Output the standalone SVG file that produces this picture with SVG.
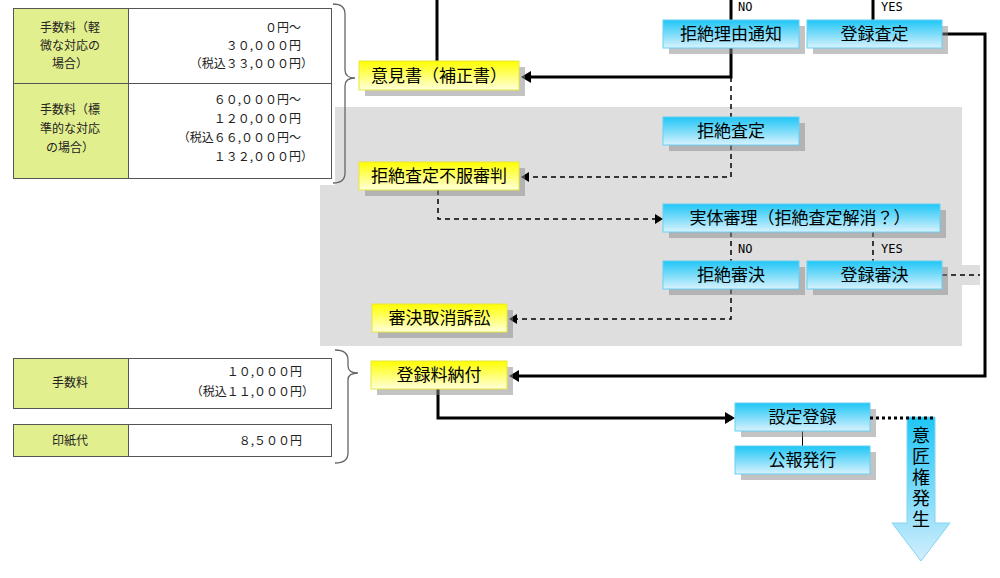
<svg xmlns="http://www.w3.org/2000/svg" width="1000" height="578" viewBox="0 0 1000 578">
<defs>
<linearGradient id="gb" x1="0" y1="0" x2="0" y2="1"><stop offset="0" stop-color="#1fc6f6"/><stop offset="1" stop-color="#d8f2fd"/></linearGradient>
<linearGradient id="gy" x1="0" y1="0" x2="0" y2="1"><stop offset="0" stop-color="#ffff00"/><stop offset="1" stop-color="#ffffdc"/></linearGradient>
<linearGradient id="ga" x1="0" y1="0" x2="0" y2="1"><stop offset="0" stop-color="#1fc6f6"/><stop offset="1" stop-color="#d2eefc"/></linearGradient>
<marker id="ah" markerUnits="userSpaceOnUse" markerWidth="10" markerHeight="12" viewBox="0 0 10 12" refX="4" refY="6" orient="auto"><path d="M0,0 L10,6 L0,12 Z" fill="#000"/></marker>
<marker id="ahd" markerUnits="userSpaceOnUse" markerWidth="8" markerHeight="10" viewBox="0 0 8 10" refX="3" refY="5" orient="auto"><path d="M0,0 L8,5 L0,10 Z" fill="#000"/></marker>
<style>
.sh{fill:#888;opacity:.5}
.bn{fill:url(#gb);stroke:#66d0f4;stroke-width:1}
.yn{fill:url(#gy);stroke:#e6e640;stroke-width:1}
.nt{font-family:"Noto Sans CJK JP","Noto Sans",sans-serif;font-size:17px;fill:#000;text-anchor:middle}
.vt{font-family:"Noto Sans CJK JP","Noto Sans",sans-serif;font-size:18px;fill:#000;writing-mode:vertical-rl;letter-spacing:3px}
.tb{fill:#fff;stroke:#555;stroke-width:1}
.tg{fill:#e2ef8f;stroke:#555;stroke-width:1}
.tt{font-family:"Noto Sans CJK JP","Noto Sans",sans-serif;font-size:12px;fill:#222}
.tc{text-anchor:middle}
.te{text-anchor:end}
.br{fill:none;stroke:#666;stroke-width:1.3}
.s{fill:none;stroke:#000;stroke-width:3}
.d{fill:none;stroke:#000;stroke-width:1.5;stroke-dasharray:5 4}
.lb{font-family:"DejaVu Sans Mono",monospace;font-size:12px;fill:#000}
</style>
</defs>
<rect width="1000" height="578" fill="#fff"/>
<g id="background">
<path d="M335,107 H962 V346 H320 V185 H335 Z" fill="#dedede"/>
<rect x="962" y="265" width="18" height="20" fill="#dedede"/>
</g>
<g id="fee-table-1">
<rect class="tb" x="13.5" y="8.5" width="318" height="170"/>
<rect class="tg" x="13.5" y="8.5" width="115" height="75"/>
<rect class="tg" x="13.5" y="83.5" width="115" height="95"/>
<line x1="128.5" y1="83.5" x2="331.5" y2="83.5" stroke="#555"/>
<text class="tt tc" x="70" y="32">手数料（軽</text>
<text class="tt tc" x="70" y="50">微な対応の</text>
<text class="tt tc" x="70" y="68">場合）</text>
<text class="tt te" x="301" y="32">０円～</text>
<text class="tt te" x="301" y="50">３０,０００円</text>
<text class="tt te" x="313" y="68">（税込３３,０００円）</text>
<text class="tt tc" x="70" y="114">手数料（標</text>
<text class="tt tc" x="70" y="133">準的な対応</text>
<text class="tt tc" x="70" y="152">の場合）</text>
<text class="tt te" x="301" y="104">６０,０００円～</text>
<text class="tt te" x="301" y="123">１２０,０００円</text>
<text class="tt te" x="301" y="142">（税込６６,０００円～</text>
<text class="tt te" x="313" y="161">１３２,０００円）</text>
</g>
<g id="fee-table-2">
<rect class="tb" x="13.5" y="358.5" width="318" height="50"/>
<rect class="tg" x="13.5" y="358.5" width="115" height="50"/>
<text class="tt tc" x="70" y="387">手数料</text>
<text class="tt te" x="302" y="376">１０,０００円</text>
<text class="tt te" x="314" y="396">（税込１１,０００円）</text>
</g>
<g id="fee-table-3">
<rect class="tb" x="13.5" y="424.5" width="318" height="32"/>
<rect class="tg" x="13.5" y="424.5" width="115" height="32"/>
<text class="tt tc" x="70" y="445">印紙代</text>
<text class="tt te" x="302" y="445">８,５００円</text>
</g>
<g id="braces">
<path class="br" d="M333,4 Q345,4 345,14 V70 Q345,78 355,78 Q345,78 345,86 V173 Q345,183 333,183"/>
<path class="br" d="M335,350 Q348,350 348,360 V366 Q348,373 358,373 Q348,373 348,380 V453 Q348,463 335,463"/>
</g>
<g id="connectors">
<path class="s" d="M437,0 V61"/>
<path class="s" d="M731,0 V20"/>
<path class="s" d="M873,0 V20"/>
<path class="s" d="M731,48 V77 H527" marker-end="url(#ah)"/>
<path class="s" d="M942,34 H985 V376 H515" marker-end="url(#ah)"/>
<path class="s" d="M438,389 V418 H729" marker-end="url(#ah)"/>
<path class="d" d="M731,77 V117"/>
<path class="d" d="M731,145 V177 H526" marker-end="url(#ahd)"/>
<path class="d" d="M438,190 V219 H658" marker-end="url(#ahd)"/>
<path class="d" d="M731,232 V261"/>
<path class="d" d="M873,232 V261"/>
<path class="d" d="M731,289 V319 H514" marker-end="url(#ahd)"/>
<path class="d" d="M942,275 H980"/>
<path d="M802.5,431 V446" stroke="#000" stroke-width="1"/>
<text class="lb" x="738" y="11">NO</text>
<text class="lb" x="881" y="11">YES</text>
<text class="lb" x="738" y="253">NO</text>
<text class="lb" x="881" y="253">YES</text>
</g>
<g id="node-ikensho">
<rect class="sh" x="365" y="67" width="160" height="29"/>
<rect class="yn" x="359" y="61" width="160" height="29"/>
<text class="nt" x="439" y="82">意見書（補正書）</text>
</g>
<g id="node-fufuku-shinpan">
<rect class="sh" x="365" y="168" width="160" height="28"/>
<rect class="yn" x="359" y="162" width="160" height="28"/>
<text class="nt" x="439" y="182">拒絶査定不服審判</text>
</g>
<g id="node-torikeshi-sosho">
<rect class="sh" x="378" y="310" width="135" height="28"/>
<rect class="yn" x="372" y="304" width="135" height="28"/>
<text class="nt" x="439.5" y="324">審決取消訴訟</text>
</g>
<g id="node-torokuryo">
<rect class="sh" x="377" y="367" width="136" height="28"/>
<rect class="yn" x="371" y="361" width="136" height="28"/>
<text class="nt" x="439" y="381">登録料納付</text>
</g>
<g id="node-kyozetsu-riyu">
<rect class="sh" x="669" y="26" width="136" height="28"/>
<rect class="bn" x="663" y="20" width="136" height="28"/>
<text class="nt" x="731" y="40">拒絶理由通知</text>
</g>
<g id="node-toroku-satei">
<rect class="sh" x="813" y="26" width="135" height="28"/>
<rect class="bn" x="807" y="20" width="135" height="28"/>
<text class="nt" x="874.5" y="40">登録査定</text>
</g>
<g id="node-kyozetsu-satei">
<rect class="sh" x="669" y="123" width="136" height="28"/>
<rect class="bn" x="663" y="117" width="136" height="28"/>
<text class="nt" x="731" y="137">拒絶査定</text>
</g>
<g id="node-jittai-shinri">
<rect class="sh" x="669" y="210" width="277" height="28"/>
<rect class="bn" x="663" y="204" width="277" height="28"/>
<text class="nt" x="800" y="224">実体審理（拒絶査定解消？）</text>
</g>
<g id="node-kyozetsu-shinketsu">
<rect class="sh" x="669" y="267" width="136" height="28"/>
<rect class="bn" x="663" y="261" width="136" height="28"/>
<text class="nt" x="731" y="281">拒絶審決</text>
</g>
<g id="node-toroku-shinketsu">
<rect class="sh" x="813" y="267" width="135" height="28"/>
<rect class="bn" x="807" y="261" width="135" height="28"/>
<text class="nt" x="874.5" y="281">登録審決</text>
</g>
<g id="node-settei-toroku">
<rect class="sh" x="741" y="409" width="135" height="28"/>
<rect class="bn" x="735" y="403" width="135" height="28"/>
<text class="nt" x="802.5" y="423">設定登録</text>
</g>
<g id="node-koho">
<rect class="sh" x="741" y="452" width="135" height="28"/>
<rect class="bn" x="735" y="446" width="135" height="28"/>
<text class="nt" x="802.5" y="466">公報発行</text>
</g>
<g id="node-ishoken">
<path d="M907,417 H935 V523 H950 L921,561 L892,523 H907 Z" fill="url(#ga)" stroke="#86d4f3" stroke-width="1"/>
<text class="vt" x="921" y="426">意匠権発生</text>
</g>
<path d="M870,418 H935" stroke="#000" stroke-width="3" stroke-dasharray="3 3" fill="none"/>
</svg>
